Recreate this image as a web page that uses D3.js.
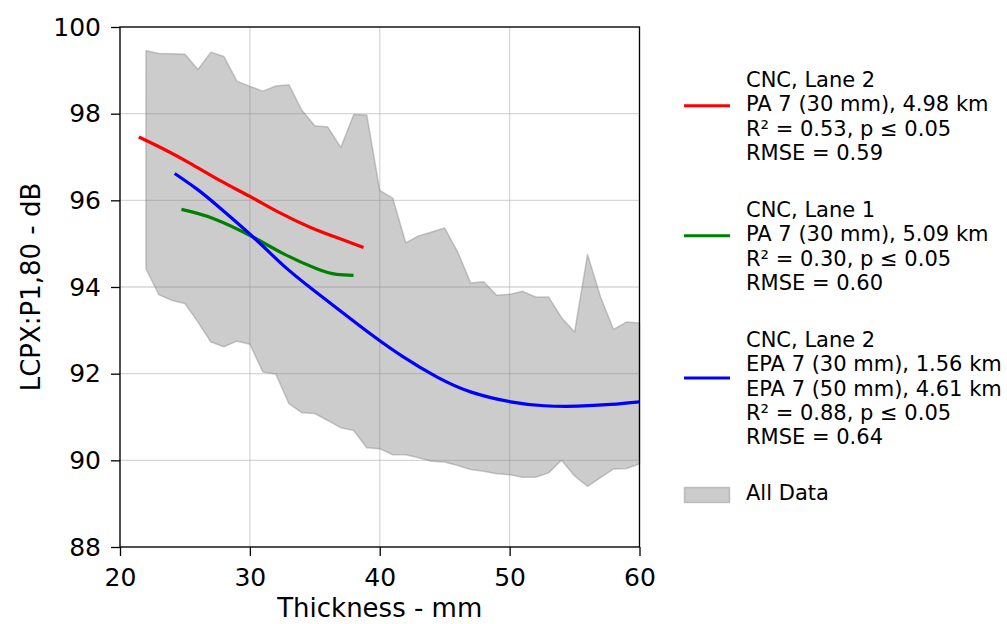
<!DOCTYPE html>
<html>
<head>
<meta charset="utf-8">
<script src="https://cdn.jsdelivr.net/npm/d3@7"></script>
<style>
  html, body { margin: 0; padding: 0; background: #fff; }
  svg text { font-family: "DejaVu Sans", sans-serif; fill: #000; }
</style>
</head>
<body>
<svg id="chart" width="1007" height="624"></svg>
<script>
// Envelope of all measurements (min / max per mm of thickness)
const thickness = [22,23,24,25,26,27,28,29,30,31,32,33,34,35,36,37,38,39,40,
  41,42,43,44,45,46,47,48,49,50,51,52,53,54,55,56,57,58,59,60];
const upperDb = [99.45,99.39,99.38,99.37,99.02,99.42,99.32,98.75,98.63,98.52,98.64,98.67,98.08,97.72,97.69,97.22,97.98,97.97,96.23,
  96.05,95.02,95.18,95.27,95.36,94.81,94.09,94.12,93.81,93.83,93.90,93.77,93.77,93.29,92.96,94.75,93.77,93.02,93.19,93.17];
const lowerDb = [94.42,93.82,93.69,93.62,93.19,92.73,92.62,92.75,92.68,92.04,91.99,91.31,91.10,91.08,90.92,90.75,90.69,90.29,90.27,
  90.13,90.13,90.06,89.98,89.96,89.88,89.79,89.75,89.69,89.67,89.61,89.61,89.71,90.00,89.64,89.40,89.60,89.80,89.81,89.92];

// Regression curves
const redX   = [21.45,23.31,25.37,27.68,30.00,32.32,34.63,36.69,38.75];
const redY   = [97.46,97.19,96.86,96.46,96.09,95.71,95.38,95.14,94.91];
const greenX = [24.73,27.17,30.25,32.57,35.15,36.69,37.98];
const greenY = [95.79,95.58,95.15,94.77,94.42,94.29,94.27];
const blueX  = [24.21,25.88,27.68,30.52,32.57,34.76,37.00,39.27,41.84,44.42,46.99,50.08,52.65,55.23,57.80,60.00];
const blueY  = [96.62,96.27,95.83,95.08,94.50,93.96,93.44,92.92,92.38,91.92,91.58,91.35,91.26,91.25,91.29,91.35];

const xTicks = [20,30,40,50,60];
const yTicks = [88,90,92,94,96,98,100];

const legendItems = [
  { color: "#ff0000", lines: ["CNC, Lane 2", "PA 7 (30 mm), 4.98 km", "R\u00b2 = 0.53, p \u2264 0.05", "RMSE = 0.59"] },
  { color: "#008000", lines: ["CNC, Lane 1", "PA 7 (30 mm), 5.09 km", "R\u00b2 = 0.30, p \u2264 0.05", "RMSE = 0.60"] },
  { color: "#0000ff", lines: ["CNC, Lane 2", "EPA 7 (30 mm), 1.56 km", "EPA 7 (50 mm), 4.61 km", "R\u00b2 = 0.88, p \u2264 0.05", "RMSE = 0.64"] }
];

const svg = d3.select("#chart");
const plot = { left: 120, right: 639.5, top: 27, bottom: 547 };

const x = d3.scaleLinear().domain([20, 60]).range([plot.left, plot.right]);
const y = d3.scaleLinear().domain([88, 100]).range([plot.bottom, plot.top]);

// grid
const grid = svg.append("g");
grid.selectAll("line.gx").data(xTicks).join("line")
  .attr("x1", d => x(d)).attr("x2", d => x(d))
  .attr("y1", plot.top).attr("y2", plot.bottom)
  .attr("stroke", "#b0b0b0").attr("stroke-opacity", 0.5).attr("stroke-width", 1.3);
grid.selectAll("line.gy").data(yTicks).join("line")
  .attr("x1", plot.left).attr("x2", plot.right)
  .attr("y1", d => y(d)).attr("y2", d => y(d))
  .attr("stroke", "#b0b0b0").attr("stroke-opacity", 0.5).attr("stroke-width", 1.3);

// envelope
const env = thickness.map((t, i) => ({ t, lo: lowerDb[i], hi: upperDb[i] }));
const area = d3.area().x(d => x(d.t)).y0(d => y(d.lo)).y1(d => y(d.hi));
svg.append("path").datum(env).attr("d", area)
  .attr("fill", "#808080").attr("fill-opacity", 0.4)
  .attr("stroke", "#808080").attr("stroke-opacity", 0.4).attr("stroke-width", 1.5)
  .attr("stroke-linejoin", "round");

// fitted curves
const line = d3.line().x(d => x(d[0])).y(d => y(d[1])).curve(d3.curveNatural);
function drawCurve(xs, ys, color) {
  svg.append("path").datum(xs.map((v, i) => [v, ys[i]]))
    .attr("d", line).attr("fill", "none")
    .attr("stroke", color).attr("stroke-width", 3.2);
}
drawCurve(redX, redY, "#ff0000");
drawCurve(greenX, greenY, "#008000");
drawCurve(blueX, blueY, "#0000ff");

// axes
const xAxis = svg.append("g").attr("transform", `translate(0,${plot.bottom})`)
  .call(d3.axisBottom(x).tickValues(xTicks).tickFormat(d3.format("d")).tickSize(9).tickPadding(12));
const yAxis = svg.append("g").attr("transform", `translate(${plot.left},0)`)
  .call(d3.axisLeft(y).tickValues(yTicks).tickFormat(d3.format("d")).tickSize(9).tickPadding(10));
[xAxis, yAxis].forEach(g => {
  g.select(".domain").remove();
  g.selectAll(".tick line").attr("stroke", "#000").attr("stroke-width", 1.3);
  g.selectAll(".tick text").attr("font-size", 25).attr("fill", "#000")
    .style("font-family", "DejaVu Sans, sans-serif");
});

// frame
svg.append("rect")
  .attr("x", plot.left).attr("y", plot.top)
  .attr("width", plot.right - plot.left).attr("height", plot.bottom - plot.top)
  .attr("fill", "none").attr("stroke", "#000").attr("stroke-width", 1.3);

// axis titles
svg.append("text").attr("x", (plot.left + plot.right) / 2).attr("y", 617)
  .attr("text-anchor", "middle").attr("font-size", 26).text("Thickness - mm");
svg.append("text").attr("transform", `translate(40,${(plot.top + plot.bottom) / 2}) rotate(-90)`)
  .attr("text-anchor", "middle").attr("font-size", 26).text("LCPX:P1,80 - dB");

// legend
const legend = svg.append("g");
const groupTops = [86.7, 216.7, 346.7];
const lineGap = 24.4;
legendItems.forEach((item, k) => {
  const base = groupTops[k];
  const n = item.lines.length;
  const mid = base + (n - 1) * lineGap / 2 - 17.6;
  legend.append("line").attr("x1", 684).attr("x2", 730)
    .attr("y1", mid).attr("y2", mid)
    .attr("stroke", item.color).attr("stroke-width", 3);
  item.lines.forEach((s, j) => {
    legend.append("text").attr("x", 746).attr("y", base + j * lineGap)
      .attr("font-size", 21).text(s);
  });
});
legend.append("rect").attr("x", 684.5).attr("y", 487.5).attr("width", 45).attr("height", 15)
  .attr("fill", "#808080").attr("fill-opacity", 0.4)
  .attr("stroke", "#808080").attr("stroke-opacity", 0.4).attr("stroke-width", 1.5);
legend.append("text").attr("x", 746).attr("y", 500).attr("font-size", 21).text("All Data");
</script>
</body>
</html>
